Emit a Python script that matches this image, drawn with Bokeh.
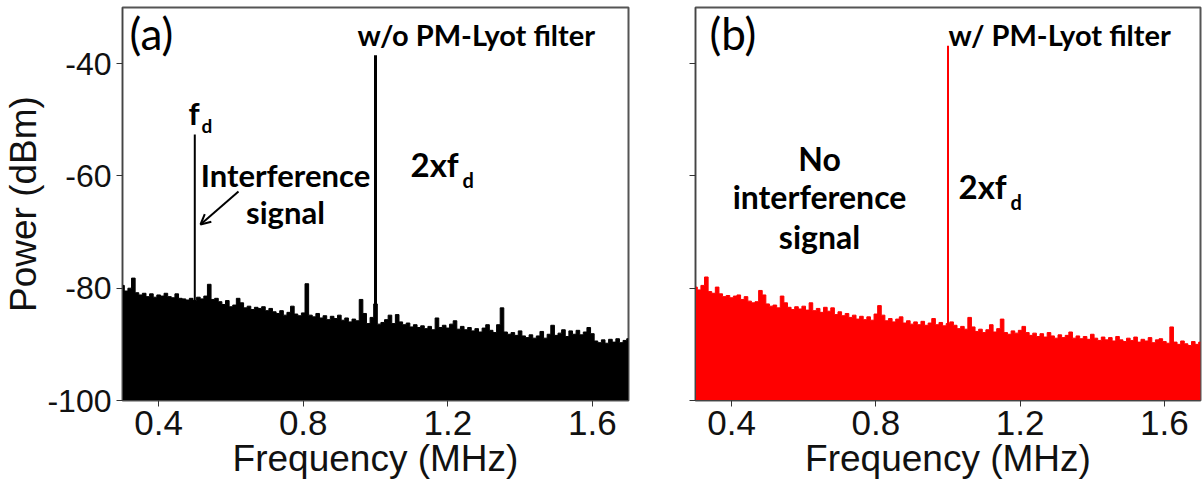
import numpy as np
from bokeh.plotting import figure
from bokeh.layouts import row
from bokeh.models import Label, Arrow, OpenHead, FixedTicker
from bokeh.embed import file_html
from bokeh.resources import INLINE

# ---------------- data ----------------
freq = [round(0.30 + 0.01 * i, 2) for i in range(141)]  # MHz bins

noise_a = [
    -79.5, -80.5, -80.0, -78.2, -80.8, -81.2, -80.9, -81.5, -81.0, -81.6,
    -81.2, -81.4, -80.9, -81.5, -81.7, -81.0, -81.8, -81.9, -82.1, -81.8,
    -82.2, -81.6, -81.9, -81.4, -79.3, -82.0, -81.8, -82.4, -82.9, -82.2,
    -83.3, -83.0, -81.8, -82.6, -83.5, -83.2, -83.8, -83.4, -83.6, -83.3,
    -84.0, -83.6, -84.2, -84.5, -84.0, -84.8, -84.3, -83.2, -84.6, -84.9,
    -84.4, -79.2, -84.8, -85.1, -84.5, -85.3, -84.9, -85.6, -85.0, -85.4,
    -84.8, -85.7, -85.3, -86.0, -85.5, -85.8, -82.0, -84.5, -86.3, -85.2,
    -82.8, -86.4, -86.1, -85.6, -84.8, -86.3, -84.7, -86.0, -86.5, -86.2,
    -86.9, -86.5, -87.0, -86.7, -87.2, -86.8, -87.4, -85.3, -87.0, -86.6,
    -87.1, -86.4, -85.8, -87.3, -86.8, -87.4, -87.0, -87.6, -87.2, -87.8,
    -87.1, -86.5, -87.5, -87.9, -86.5, -83.5, -87.8, -88.2, -87.9, -88.4,
    -87.6, -88.5, -88.8, -88.3, -88.9, -88.5, -87.7, -88.9, -88.2, -86.6,
    -88.4, -88.0, -87.4, -88.6, -87.6, -88.2, -87.5, -88.3, -87.8, -87.0,
    -88.1, -89.4, -89.7, -89.2, -89.8, -89.1, -89.6, -89.0, -89.7, -89.3,
    -89.0,
]

noise_b = [
    -79.8, -80.3, -79.5, -78.0, -80.6, -80.9, -79.8, -81.0, -81.5, -81.3,
    -81.7, -81.4, -81.2, -82.0, -81.5, -82.3, -82.6, -82.4, -80.4, -81.2,
    -82.8, -83.2, -83.0, -83.5, -81.4, -82.6, -83.4, -83.8, -83.3, -83.7,
    -83.2, -83.9, -82.6, -84.0, -83.6, -84.3, -83.4, -84.1, -83.5, -84.7,
    -84.2, -84.9, -84.5, -85.2, -84.8, -85.5, -85.0, -85.6, -85.1, -85.7,
    -84.6, -83.1, -84.8, -85.8, -85.4, -86.0, -85.5, -85.1, -86.2, -85.8,
    -86.4, -86.0, -86.5, -85.9, -86.6, -86.2, -85.4, -86.5, -86.1, -86.7,
    -86.3, -86.0, -86.6, -87.2, -86.8, -87.3, -85.2, -86.9, -87.7, -87.3,
    -87.9, -87.4, -86.5, -87.8, -87.2, -85.5, -87.9, -88.2, -87.6, -88.0,
    -87.5, -86.8, -87.9, -88.4, -88.0, -88.6, -88.1, -88.7, -87.9, -88.5,
    -88.9, -88.3, -88.8, -88.4, -87.8, -88.9, -88.5, -89.0, -88.6, -89.1,
    -88.2, -88.9, -89.3, -88.7, -89.2, -88.8, -89.4, -88.6, -89.2, -89.5,
    -88.9, -89.3, -88.7, -89.6, -89.1, -89.4, -88.8, -89.7, -89.2, -89.0,
    -89.5, -89.8, -86.9, -89.6, -90.0, -89.4, -89.9, -90.2, -89.5, -90.0,
    -89.6,
]

spike_a_freq = [0.50, 1.00]
spike_a_peak = [-52.6, -38.5]
spike_b_freq = [1.00]
spike_b_peak = [-36.8]

x_ticks = [0.4, 0.8, 1.2, 1.6]
y_ticks = [-100, -80, -60, -40]
y_tick_labels = ["-100", "-80", "-60", "-40"]
x_lo, x_hi = 0.3, 1.7
y_lo, y_hi = -100, -30

AX_FONT = "Liberation Sans"
TXT_FONT = "Lato"


def make_fig(width, left, right, ylabel):
    p = figure(width=width, height=495, x_range=(x_lo, x_hi), y_range=(y_lo, y_hi),
               output_backend="svg", toolbar_location=None,
               min_border_left=left, min_border_right=right,
               min_border_top=7, min_border_bottom=95)
    p.xgrid.visible = False
    p.ygrid.visible = False
    p.outline_line_color = "#555555"
    p.outline_line_width = 2
    p.xaxis.ticker = FixedTicker(ticks=x_ticks)
    p.yaxis.ticker = FixedTicker(ticks=y_ticks)
    p.axis.minor_tick_line_color = None
    p.axis.major_tick_in = 0
    p.axis.major_tick_out = 6
    p.axis.major_tick_line_color = "#333333"
    p.axis.axis_line_color = "#444444"
    p.axis.major_label_text_font = AX_FONT
    p.axis.major_label_text_color = "#111111"
    p.xaxis.major_label_text_font_size = "35px"
    p.yaxis.major_label_text_font_size = "32px"
    p.xaxis.major_label_standoff = 4
    p.yaxis.major_label_standoff = 5
    p.axis.axis_label_text_font = AX_FONT
    p.axis.axis_label_text_font_size = "37px"
    p.axis.axis_label_text_font_style = "normal"
    p.axis.axis_label_text_color = "#111111"
    p.axis.axis_label_standoff = 0
    p.xaxis.axis_label = "Frequency (MHz)"
    if ylabel:
        p.yaxis.axis_label = "Power (dBm)"
        p.yaxis.major_label_overrides = dict(zip(y_ticks, y_tick_labels))
    else:
        p.yaxis.major_label_overrides = {t: "" for t in y_ticks}
    return p


def add_text(p, text, sx, sy, size, bold=True, align="left", font=TXT_FONT):
    p.add_layout(Label(x=sx, y=sy, x_units="screen", y_units="screen", text=text,
                       text_font=font, text_font_size=size,
                       text_font_style="bold" if bold else "normal",
                       text_align=align, text_baseline="top", text_color="black"))


# ---------------- panel (a) ----------------
pa = make_fig(640, 120, 12, True)
pa.varea_step(x=freq, y1=[y_lo] * len(freq), y2=noise_a, step_mode="center",
              fill_color="black")
pa.step(x=freq, y=noise_a, mode="center", line_color="black", line_width=1)
pa.segment(x0=spike_a_freq[:1], y0=[y_lo], x1=spike_a_freq[:1], y1=spike_a_peak[:1],
           line_color="black", line_width=2)
pa.segment(x0=spike_a_freq[1:], y0=[y_lo], x1=spike_a_freq[1:], y1=spike_a_peak[1:],
           line_color="black", line_width=3)

add_text(pa, "(a)", 7, 394, "44px", bold=False)
add_text(pa, "w/o PM-Lyot filter", 235, 384, "29px")
add_text(pa, "f", 66, 307, "31px")
add_text(pa, "d", 79, 287, "19px")
add_text(pa, "Interference", 163, 245, "31px", align="center")
add_text(pa, "signal", 163, 208, "31px", align="center")
add_text(pa, "2xf", 288, 257, "33px")
add_text(pa, "d", 340, 233, "20px")
pa.add_layout(Arrow(end=OpenHead(size=10, line_width=2, line_color="black"),
                    x_start=116, y_start=209, x_end=78, y_end=176,
                    start_units="screen", end_units="screen",
                    line_width=2, line_color="black"))

# ---------------- panel (b) ----------------
pb = make_fig(562, 55, 2, False)
pb.varea_step(x=freq, y1=[y_lo] * len(freq), y2=noise_b, step_mode="center",
              fill_color="#ff0000")
pb.step(x=freq, y=noise_b, mode="center", line_color="#ff0000", line_width=1)
pb.segment(x0=spike_b_freq, y0=[y_lo], x1=spike_b_freq, y1=spike_b_peak,
           line_color="#ff0000", line_width=2)

add_text(pb, "(b)", 14, 394, "44px", bold=False)
add_text(pb, "w/ PM-Lyot filter", 253, 384, "29px")
add_text(pb, "No", 124, 262, "32px", align="center")
add_text(pb, "interference", 124, 224, "32px", align="center")
add_text(pb, "signal", 124, 184, "32px", align="center")
add_text(pb, "2xf", 263, 235, "33px")
add_text(pb, "d", 315, 211, "20px")

layout = row(pa, pb)
open("out.html", "w").write(file_html(layout, INLINE))
